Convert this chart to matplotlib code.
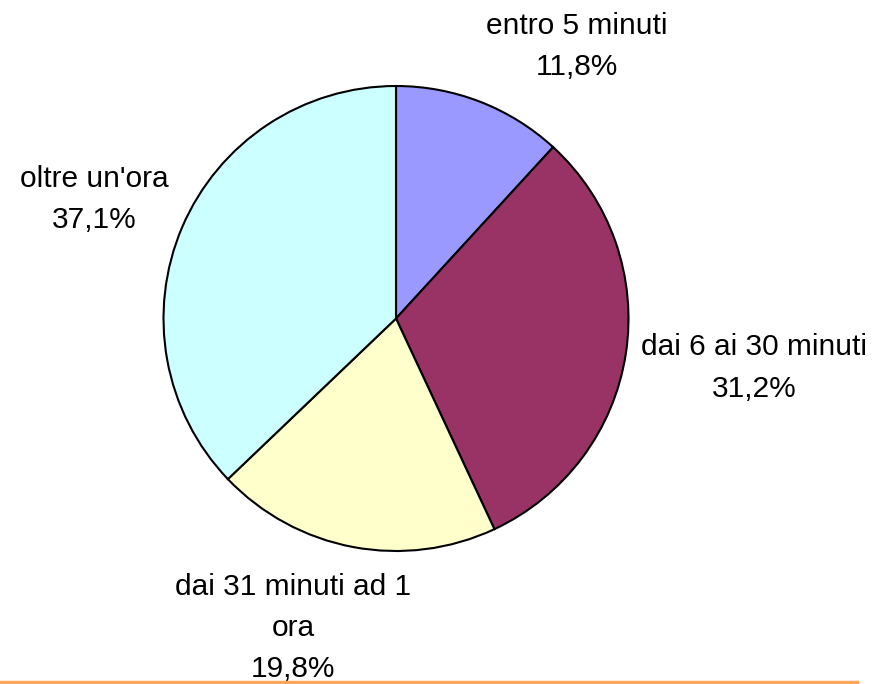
import matplotlib
matplotlib.use('Agg')
import numpy as np
import matplotlib.pyplot as plt
from matplotlib.lines import Line2D

plt.rcParams['font.family'] = ['Liberation Sans', 'DejaVu Sans']

# dati
categorie = ['entro 5 minuti', 'dai 6 ai 30 minuti', 'dai 31 minuti ad 1\nora', "oltre un'ora"]
valori = [11.8, 31.2, 19.8, 37.1]
colori = ['#9999FF', '#993366', '#FFFFCC', '#CCFFFF']

# posizione delle etichette (unita' del raggio), bordo superiore del testo
pos_etichette = [(0.777, 1.318), (1.54, -0.064), (-0.442, -1.094), (-1.296, 0.660)]

fig = plt.figure(figsize=(8.73, 6.84), dpi=100)
ax = fig.add_axes([0, 0, 1, 1])

cx, cy, r = 396, 318.5, 232.5
W, H = 873, 684

ax.pie(valori, colors=colori, startangle=90, counterclock=False, radius=1,
       wedgeprops=dict(edgecolor='black', linewidth=1.5))

ax.set_xlim(-cx / r, (W - cx) / r)
ax.set_ylim(-(H - cy) / r, cy / r)
ax.set_aspect('equal')
ax.axis('off')

for cat, v, (x, y) in zip(categorie, valori, pos_etichette):
    testo = cat + '\n' + ('%.1f' % v).replace('.', ',') + '%'
    ax.text(x, y, testo, ha='center', va='top', fontsize=21.5,
            linespacing=1.6, multialignment='center')

# linea arancione in basso
fig.add_artist(Line2D([0, 857 / W], [1 - 682 / H, 1 - 682 / H],
                      transform=fig.transFigure, color='#F9A65A', linewidth=2.5))

fig.savefig('out.png', dpi=100)
